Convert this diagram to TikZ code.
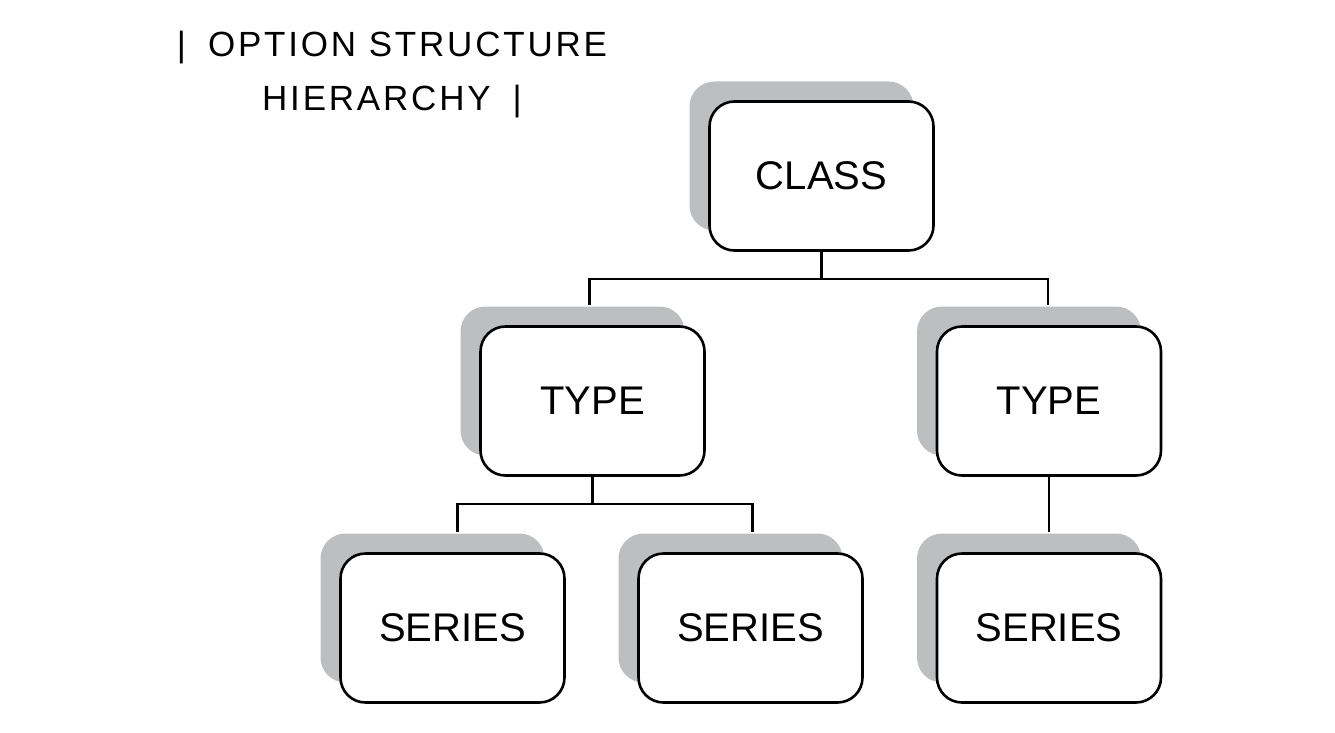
\documentclass[tikz,border=0pt]{standalone}
\usepackage{fontspec}
\setmainfont{Liberation Sans}
\usetikzlibrary{shadows,calc}
\definecolor{shadowgray}{HTML}{BDBEC0}
\tikzset{
  hbox/.style={draw=black, line width=2.6pt, rounded corners=25pt, fill=white,
    minimum width=224pt, minimum height=149pt, inner sep=0pt,
    font=\fontsize{40}{48}\selectfont,
    drop shadow={shadow xshift=-20pt, shadow yshift=20pt, opacity=1, fill=shadowgray, draw=none}},
  link/.style={draw=black, line width=2.6pt},
  titletext/.style={align=center, font=\fontsize{35}{54}\selectfont\addfontfeature{LetterSpace=8}}
}
\begin{document}
\begin{tikzpicture}[x=1pt, y=-1pt]
\useasboundingbox (0,0) rectangle (1335,733);
\node[titletext] (title) at (392,75) {|\hspace{22pt}OPTION STRUCTURE\\HIERARCHY\hspace{22pt}|};
\node[hbox] (class) at (821.5,176) {CLASS};
\node[hbox] (typeL) at (592.5,401) {TYPE};
\node[hbox] (typeR) at (1049,401) {TYPE};
\node[hbox] (serA) at (452.5,628) {SERIES};
\node[hbox] (serB) at (750.5,628) {SERIES};
\node[hbox] (serC) at (1049,628) {SERIES};
\coordinate (j1) at ($(class.south)+(0,27)$);
\coordinate (j2) at ($(typeL.south)+(0,27)$);
\draw[link] (class.south) -- (j1);
\draw[link] ($(typeL.north)+(-3,-20)$) |- (j1) -| ($(typeR.north)+(-1,-20)$);
\draw[link] (typeL.south) -- (j2);
\draw[link] ($(serA.north)+(5,-20)$) |- (j2) -| ($(serB.north)+(2,-20)$);
\draw[link] (typeR.south) -- ($(serC.north)+(0,-20)$);
\end{tikzpicture}
\end{document}
